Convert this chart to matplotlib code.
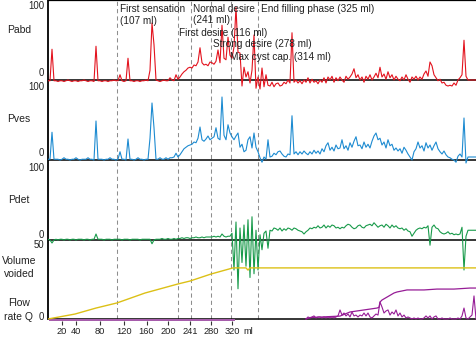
import numpy as np
import matplotlib
matplotlib.use("Agg")
import matplotlib.pyplot as plt

plt.rcParams["font.family"] = ["Liberation Sans", "DejaVu Sans"]

# ---------------------------------------------------------------
# Filling cystometry + pressure/flow recording, one sample every 4 s
# ---------------------------------------------------------------
DT = 4.0

# abdominal pressure (cmH2O)
pabd = [
    -1, -1, 41, -1, -1, -2, -1, -1, -2, -1,
    0, -1, -2, -1, -1, -2, -1, -1, 0, -1,
    -2, -1, -1, -2, 45, -1, -1, -2, -1, -1,
    -2, -1, -1, 0, -1, -1, 7, -1, -2, -1,
    29, -1, -1, -2, -1, -1, -2, -1, -1, 0,
    -1, 13, 76, 47, 0, -1, -2, -1, 0, -1,
    -1, 3, 0, -1, 7, 1, 4, 8, 11, 13,
    16, 17, 16, 20, 19, 24, 43, 23, 20, 21,
    19, 24, 23, 21, 25, 40, 23, 73, 29, 27,
    57, 33, 29, 44, 97, 37, 36, -8, 17, 4,
    11, -4, 13, 60, -11, 4, -12, 16, -9, 7,
    -7, -8, -3, -9, -5, -4, -8, -7, -3, -5,
    0, -4, 63, -3, 0, -4, -1, -5, 0, -3,
    3, -4, 1, -3, -1, -5, 0, -3, 3, -4,
    4, 0, 5, -3, 3, -1, 4, 0, -3, 5,
    1, 4, 8, 15, 3, 7, 0, 4, -3, 5,
    1, 7, 0, 4, 9, 3, 17, 4, 8, 1,
    11, 3, 7, 0, 5, 1, -1, 4, 0, 7,
    1, -3, 4, 1, 5, 0, 4, 1, 8, 12,
    5, 24, 19, 7, 3, -1, 1, -4, -3, -7,
    -8, -7, -8, -4, -7, 0, 3, 7, 53, 5,
    0, 0, 0, 0, 0,
]

# intravesical pressure (cmH2O)
pves = [
    1, 1, 37, 1, 1, 1, 0, 1, 3, 1,
    1, 0, 1, 1, 3, 1, 0, 1, 1, 1,
    3, 1, 1, 0, 52, 1, 1, 1, 0, 1,
    1, 3, 1, 1, 0, 1, 11, 1, 1, 0,
    28, 1, 1, 0, 1, 3, 1, 1, 0, 1,
    1, 29, 76, 43, 1, 1, 3, 1, 1, 3,
    1, 3, 3, 4, 9, 4, 7, 11, 15, 17,
    19, 20, 21, 24, 23, 29, 44, 27, 25, 28,
    32, 27, 29, 31, 43, 29, 27, 84, 33, 27,
    47, 36, 31, 27, 32, 36, 17, 21, 11, 13,
    27, 31, 16, 36, 17, 11, 3, -3, 4, 1,
    27, 4, 5, 9, 7, 11, 12, 8, 5, 4,
    8, 7, 59, 8, 11, 7, 11, 8, 12, 9,
    7, 11, 8, 13, 9, 12, 8, 15, 11, 19,
    23, 13, 17, 12, 20, 15, 16, 27, 15, 19,
    13, 23, 17, 25, 31, 19, 20, 15, 24, 17,
    21, 16, 25, 32, 36, 27, 29, 20, 24, 16,
    27, 19, 21, 13, 16, 12, 15, 9, 17, 13,
    8, 4, 0, 11, 15, 24, 16, 19, 12, 23,
    16, 20, 13, 19, 24, 15, 11, 8, 12, 7,
    4, 3, 1, 0, -3, 5, 8, 4, 56, -4,
    4, 4, 4, 4, 4,
]

# detrusor pressure (cmH2O)
pdet = [
    1, 0, -4, 0, 1, 0, 1, 1, 0, 1,
    1, 0, 1, 1, 0, 1, 1, 1, 0, 1,
    1, 0, 1, 1, 8, 1, 1, 1, 0, 1,
    1, 1, 0, 1, 1, 1, 1, 0, 1, 1,
    1, 0, 1, 1, 1, 1, 0, 1, 1, 1,
    1, 1, -5, 0, 1, 1, 1, 2, 1, 1,
    2, 1, 1, 2, 1, 2, 2, 3, 2, 3,
    3, 2, 3, 3, 4, 3, 3, 4, 3, 4,
    4, 4, 4, 5, 4, 5, 4, 8, 5, 4,
    5, 5, 9, -40, 24, -65, 16, -30, 20, -35,
    27, -50, 31, -45, 13, -40, 7, -13, 9, 12,
    -11, 13, 12, 16, 15, 13, 16, 12, 15, 13,
    16, 15, 13, 16, 15, 13, 12, 11, 8, 11,
    13, 16, 15, 17, 16, 19, 16, 17, 20, 16,
    19, 17, 20, 19, 16, 17, 15, 17, 16, 19,
    21, 20, 17, 15, 16, 19, 20, 17, 16, 19,
    20, 21, 19, 23, 20, 17, 19, 20, 17, 21,
    19, 16, 20, 17, 19, 16, 15, 16, 13, 15,
    12, 11, 5, 9, 13, 15, 16, 15, 17, 16,
    19, -7, 17, 20, 16, 15, 11, 9, 8, 9,
    11, 8, 9, 7, 8, 7, 8, 17, -40, 5,
    13, 13, 13, 13, 13,
]

# flow rate Q (ml/s), recorded from t = 516 s
flow_start = 516
flow_q = [
    0, 1.4, 0.7, 1.4, 2.1, 0.7, 1.4, 1.4, 0.7, 1.4,
    0.7, 1.4, 0.7, 1.4, 0.7, 1.4, 2.1, 6.2, 2.7, 4.1,
    2.1, 3.4, 1.4, 4.8, 2.1, 2.7, 1.4, 2.7, 2.1, 4.1,
    2.1, 4.1, 1.4, 0.7, 2.1, 3.4, 2.7, 11.6, 8.2, 4.1,
    5.5, 6.2, 2.7, 4.8, 3.4, 6.2, 2.1, 4.1, 1.4, 2.7,
    0.7, 1.4, 0.7, 0, 0.7, 0, 0.7, 0, 0, 0.7,
    2.1, 0.7, 2.1, 0, 1.4, 2.1, 0, 0, 0.7, 0,
    0, 0, 0.7, 0, 0, 0, 0.7, 0, 2.1, 7.5,
    0.7, 0, 1.4, 2.7, 15.8, 0,
]

# voided volume (ml)
voided_t = [516, 524, 584, 604, 644, 658, 662, 664, 668, 678, 692, 698, 718, 752, 778, 812, 844, 856]
voided_ml = [0, 1, 2, 4.8, 6.8, 7.5, 8, 11.6, 13, 15, 17.8, 18.5, 19.9, 19.9, 20.5, 20.5, 21.2, 21.2]

# infused volume trace
infused_t = [0, 54, 96, 138, 194, 260, 284, 326, 370, 396, 400, 404, 856]
infused_ml = [0, 3.4, 7.5, 11, 17.8, 24, 26, 30.8, 35, 35, 33.5, 35, 35]

# filling events
event_names = ["First sensation", "First desire", "Normal desire",
               "Strong desire", "Max cyst cap.", "End filling phase"]
event_ml = [107, 116, 241, 278, 314, 325]
event_t = [138, 260, 286, 327, 366, 420]

# x axis: filled volume at given times
tick_t = [27, 55, 103, 152, 197, 240, 285, 327, 369]
tick_ml = [20, 40, 80, 120, 160, 200, 241, 280, 320]

filling_span = [2, 374]

# ---------------------------------------------------------------
# layout (pixel based)
# ---------------------------------------------------------------
W, H = 477, 337
AX_LEFT, AX_BOTTOM = 48, 321
T_END = 858
Y_TOP = 319                     # data value at the top of the axes
BASE = {"pabd": 239, "pves": 159, "pdet": 79, "vol": 0}
P_SCALE = 0.75                  # display units per cmH2O
V_SCALE = 1.46                  # display units per ml

C_RED = "#e3131e"
C_BLUE = "#1d8bd1"
C_GREEN = "#189a4a"
C_YELLOW = "#dcc016"
C_PURPLE = "#961c96"
C_BAR = "#a65cab"
C_TEXT = "#222222"

fig = plt.figure(figsize=(W / 100, H / 100), dpi=100)
ax = fig.add_axes([AX_LEFT / W, (H - AX_BOTTOM) / H, (W - AX_LEFT) / W, AX_BOTTOM / H])
ax.set_xlim(0, T_END)
ax.set_ylim(Y_TOP - AX_BOTTOM, Y_TOP)


def y_of(py):
    return Y_TOP - py


def x_of(px):
    return (px - AX_LEFT) * T_END / (W - AX_LEFT)


# event markers
ax.vlines(event_t, 0, Y_TOP, colors="#8e8e8e", linewidth=0.75,
          linestyles=(0, (4, 3)), zorder=1)

# channel zero lines
ax.hlines(list(BASE.values()), 0, T_END, colors="black", linewidth=1.1, zorder=2)

t_p = np.arange(len(pabd)) * DT
ax.plot(t_p, BASE["pabd"] + np.array(pabd) * P_SCALE, color=C_RED, lw=0.8, zorder=3)
t_v = np.arange(len(pves)) * DT
ax.plot(t_v, BASE["pves"] + np.array(pves) * P_SCALE, color=C_BLUE, lw=0.8, zorder=3)
t_d = np.arange(len(pdet)) * DT
ax.plot(t_d, BASE["pdet"] + np.array(pdet) * P_SCALE, color=C_GREEN, lw=0.8, zorder=3)

ax.plot(infused_t, BASE["vol"] + np.array(infused_ml) * V_SCALE, color=C_YELLOW, lw=1.0, zorder=3)
ax.plot(voided_t, BASE["vol"] + np.array(voided_ml) * V_SCALE, color=C_PURPLE, lw=0.9, zorder=3)
t_q = flow_start + np.arange(len(flow_q)) * DT
ax.plot(t_q, BASE["vol"] + np.array(flow_q) * V_SCALE, color=C_PURPLE, lw=0.8, zorder=3)

# filling phase bar under the time axis
ax.fill_between(filling_span, Y_TOP - AX_BOTTOM, -0.3, color=C_BAR, lw=0, zorder=2)

# event annotations: (dx in s, baseline rows in px)
label_dx = [6, 2, 4, 3, -2, 6]
label_rows = [(12, 23.5), (36.5,), (11.5, 23), (47,), (59.5,), (11.5,)]
for name, ml, t, dx, rows in zip(event_names, event_ml, event_t, label_dx, label_rows):
    if len(rows) == 2:
        ax.text(t + dx, y_of(rows[0]), name, fontsize=7.2, color=C_TEXT, va="baseline")
        ax.text(t + dx, y_of(rows[1]), f"({ml} ml)", fontsize=7.2, color=C_TEXT, va="baseline")
    else:
        ax.text(t + dx, y_of(rows[0]), f"{name} ({ml} ml)", fontsize=7.2,
                color=C_TEXT, va="baseline")

# axes frame
for s in ("right", "bottom"):
    ax.spines[s].set_visible(False)
ax.spines["left"].set_bounds(0, Y_TOP)
ax.spines["left"].set_linewidth(1.3)
ax.spines["top"].set_linewidth(0.9)
ax.set_yticks([])
ax.set_xticks(tick_t, [str(v) for v in tick_ml])
ax.tick_params(axis="x", direction="out", length=3, width=0.8, color="#333333",
               labelsize=6.7, labelcolor=C_TEXT, pad=1.5)
fig.text(243 / W, 1 - 332 / H, "ml", fontsize=6.7, color=C_TEXT, va="center", ha="left")

# channel names
for txt, py in [("Pabd", 30), ("Pves", 119), ("Pdet", 200), ("Volume", 261),
                ("voided", 274), ("Flow", 303), ("rate Q", 317)]:
    fig.text(19 / W, 1 - py / H, txt, fontsize=7.5, color=C_TEXT, ha="center", va="center")

# channel scales
for txt, py in [("100", 6), ("0", 73), ("100", 87), ("0", 153), ("100", 168),
                ("0", 235), ("50", 245), ("0", 317)]:
    fig.text(44 / W, 1 - py / H, txt, fontsize=6.9, color=C_TEXT, ha="right", va="center")

fig.savefig("out.png", dpi=100)
